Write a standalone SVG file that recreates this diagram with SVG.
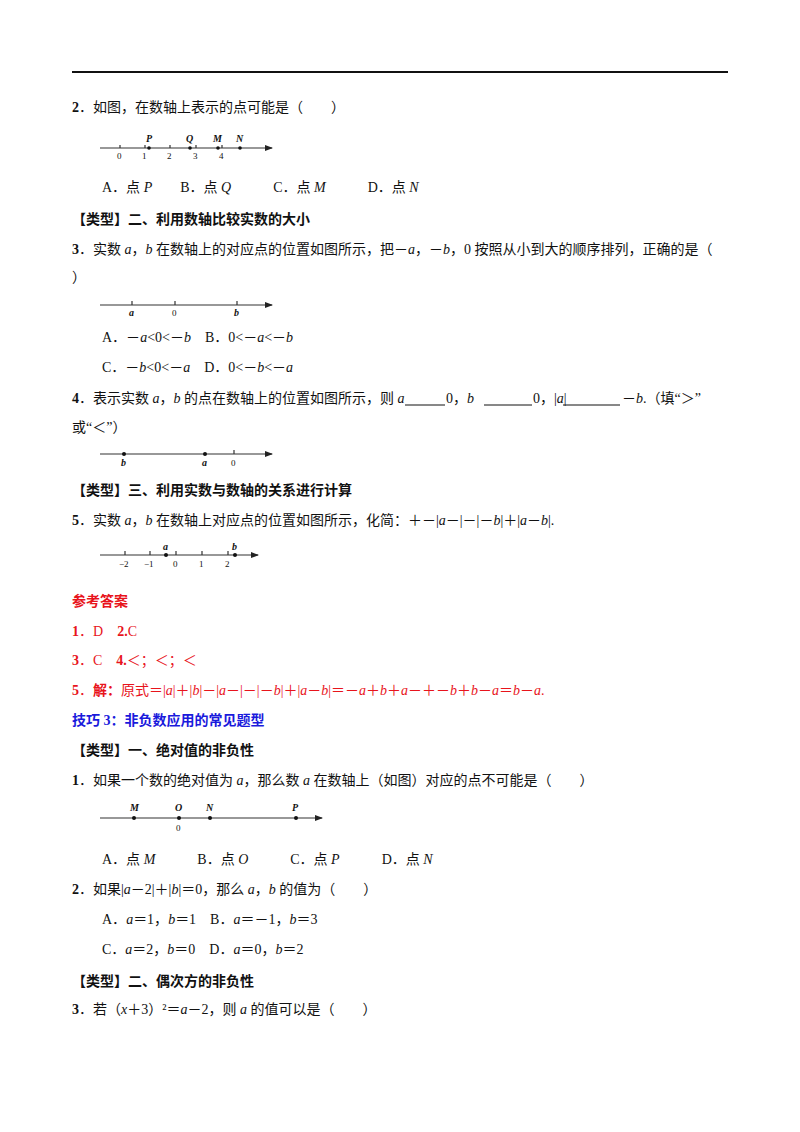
<svg xmlns="http://www.w3.org/2000/svg" width="800" height="1132" viewBox="0 0 800 1132">
<defs>
<marker id="ar" markerWidth="8" markerHeight="6" refX="7" refY="3" orient="auto" markerUnits="userSpaceOnUse"><path d="M0,0L8,3L0,6z" fill="#222"/></marker>
<style>
text{font-family:"Liberation Serif","Noto Sans CJK SC",serif;font-size:14px;fill:#111}
.b{font-weight:bold}
.r{fill:#e8141c}
.bl{fill:#1a1adc;font-weight:bold}
.s{font-size:9px;font-family:"Liberation Serif",serif}
.si{font-size:10px;font-style:italic;font-weight:bold;font-family:"Liberation Serif",serif}
.ax{stroke:#333;stroke-width:1.2;fill:none}
.i{font-style:italic}
</style>
</defs>
<rect width="800" height="1132" fill="#fff"/>
<line x1="72" y1="72" x2="728" y2="72" stroke="#111" stroke-width="2"/>
<g id="text">
<text x="72" y="112"><tspan class="b">2</tspan>．如图，在数轴上表示的点可能是（　　）</text>
<text x="102" y="192">A．点 <tspan class="i">P</tspan>　　B．点 <tspan class="i">Q</tspan>　　　C．点 <tspan class="i">M</tspan>　　　D．点 <tspan class="i">N</tspan></text>
<text x="72" y="224" class="b">【类型】二、利用数轴比较实数的大小</text>
<text x="72" y="254"><tspan class="b">3</tspan>．实数 <tspan class="i">a</tspan>，<tspan class="i">b</tspan> 在数轴上的对应点的位置如图所示，把－<tspan class="i">a</tspan>，－<tspan class="i">b</tspan>，0 按照从小到大的顺序排列，正确的是（</text>
<text x="72" y="282">）</text>
<text x="102" y="342">A．－<tspan class="i">a</tspan>&lt;0&lt;－<tspan class="i">b</tspan>　B．0&lt;－<tspan class="i">a</tspan>&lt;－<tspan class="i">b</tspan></text>
<text x="102" y="372">C．－<tspan class="i">b</tspan>&lt;0&lt;－<tspan class="i">a</tspan>　D．0&lt;－<tspan class="i">b</tspan>&lt;－<tspan class="i">a</tspan></text>
<text x="72" y="403"><tspan class="b">4</tspan>．表示实数 <tspan class="i">a</tspan>，<tspan class="i">b</tspan> 的点在数轴上的位置如图所示，则 <tspan class="i">a</tspan></text>
<text x="446" y="403">0，<tspan class="i">b</tspan></text>
<text x="533" y="403">0，|<tspan class="i">a</tspan>|</text>
<text x="622" y="403">－<tspan class="i">b</tspan>.（填“＞”</text>
<line x1="405" y1="405" x2="445" y2="405" stroke="#111"/>
<line x1="484" y1="405" x2="532" y2="405" stroke="#111"/>
<line x1="563" y1="405" x2="620" y2="405" stroke="#111"/>
<text x="72" y="432">或“＜”）</text>
<text x="72" y="495" class="b">【类型】三、利用实数与数轴的关系进行计算</text>
<text x="72" y="525"><tspan class="b">5</tspan>．实数 <tspan class="i">a</tspan>，<tspan class="i">b</tspan> 在数轴上对应点的位置如图所示，化简：＋－|<tspan class="i">a</tspan>－|－|－<tspan class="i">b</tspan>|＋|<tspan class="i">a</tspan>－<tspan class="i">b</tspan>|.</text>
<text x="72" y="606" class="b r">参考答案</text>
<text x="72" y="636" class="r"><tspan class="b">1</tspan>．D　<tspan class="b">2.</tspan>C</text>
<text x="72" y="665" class="r"><tspan class="b">3</tspan>．C　<tspan class="b">4.</tspan>＜；＜；＜</text>
<text x="72" y="695" class="r"><tspan class="b">5</tspan>．<tspan class="b">解：</tspan>原式＝|<tspan class="i">a</tspan>|＋|<tspan class="i">b</tspan>|－|<tspan class="i">a</tspan>－|－|－<tspan class="i">b</tspan>|＋|<tspan class="i">a</tspan>－<tspan class="i">b</tspan>|＝－<tspan class="i">a</tspan>＋<tspan class="i">b</tspan>＋<tspan class="i">a</tspan>－＋－<tspan class="i">b</tspan>＋<tspan class="i">b</tspan>－<tspan class="i">a</tspan>＝<tspan class="i">b</tspan>－<tspan class="i">a</tspan>.</text>
<text x="72" y="725" class="bl">技巧 3：非负数应用的常见题型</text>
<text x="72" y="755" class="b">【类型】一、绝对值的非负性</text>
<text x="72" y="785"><tspan class="b">1</tspan>．如果一个数的绝对值为 <tspan class="i">a</tspan>，那么数 <tspan class="i">a</tspan> 在数轴上（如图）对应的点不可能是（　　）</text>
<text x="102" y="864">A．点 <tspan class="i">M</tspan>　　　B．点 <tspan class="i">O</tspan>　　　C．点 <tspan class="i">P</tspan>　　　D．点 <tspan class="i">N</tspan></text>
<text x="72" y="894"><tspan class="b">2</tspan>．如果|<tspan class="i">a</tspan>－2|＋|<tspan class="i">b</tspan>|＝0，那么 <tspan class="i">a</tspan>，<tspan class="i">b</tspan> 的值为（　　）</text>
<text x="102" y="924">A．<tspan class="i">a</tspan>＝1，<tspan class="i">b</tspan>＝1　B．<tspan class="i">a</tspan>＝－1，<tspan class="i">b</tspan>＝3</text>
<text x="102" y="954">C．<tspan class="i">a</tspan>＝2，<tspan class="i">b</tspan>＝0　D．<tspan class="i">a</tspan>＝0，<tspan class="i">b</tspan>＝2</text>
<text x="72" y="986" class="b">【类型】二、偶次方的非负性</text>
<text x="72" y="1014"><tspan class="b">3</tspan>．若（<tspan class="i">x</tspan>＋3）²＝<tspan class="i">a</tspan>－2，则 <tspan class="i">a</tspan> 的值可以是（　　）</text>
</g>
<g id="axis1">
<line class="ax" x1="100" y1="148" x2="272" y2="148" marker-end="url(#ar)"/>
<path class="ax" d="M120,145v3M145,145v3M170,145v3M196,145v3M222,145v3"/>
<g fill="#111"><circle cx="149" cy="148" r="1.8"/><circle cx="190" cy="148" r="1.8"/><circle cx="218" cy="148" r="1.8"/><circle cx="240" cy="148" r="1.8"/></g>
<text class="s" x="117" y="159">0</text><text class="s" x="142" y="159">1</text><text class="s" x="167" y="159">2</text><text class="s" x="193" y="159">3</text><text class="s" x="219" y="159">4</text>
<text class="si" x="146" y="142">P</text><text class="si" x="186" y="142">Q</text><text class="si" x="213" y="142">M</text><text class="si" x="236" y="142">N</text>
</g>
<g id="axis2">
<line class="ax" x1="100" y1="305" x2="272" y2="305" marker-end="url(#ar)"/>
<path class="ax" d="M132,301v4M175,301v4M237,301v4"/>
<text class="si" x="129" y="316">a</text><text class="s" x="172" y="316">0</text><text class="si" x="234" y="316">b</text>
</g>
<g id="axis3">
<line class="ax" x1="100" y1="454" x2="272" y2="454" marker-end="url(#ar)"/>
<path class="ax" d="M234,450v4"/>
<g fill="#111"><circle cx="124" cy="454" r="2"/><circle cx="205" cy="454" r="2"/></g>
<text class="si" x="121" y="466">b</text><text class="si" x="202" y="466">a</text><text class="s" x="231" y="466">0</text>
</g>
<g id="axis4">
<line class="ax" x1="100" y1="555" x2="258" y2="555" marker-end="url(#ar)"/>
<path class="ax" d="M125,551v4M150,551v4M176,551v4M202,551v4M228,551v4"/>
<g fill="#111"><circle cx="166" cy="555" r="2"/><circle cx="235" cy="555" r="2"/></g>
<text class="s" x="119" y="567">−2</text><text class="s" x="144" y="567">−1</text><text class="s" x="173" y="567">0</text><text class="s" x="199" y="567">1</text><text class="s" x="225" y="567">2</text>
<text class="si" x="163" y="550">a</text><text class="si" x="232" y="550">b</text>
</g>
<g id="axis5">
<line class="ax" x1="100" y1="818" x2="322" y2="818" marker-end="url(#ar)"/>
<g fill="#111"><circle cx="134" cy="818" r="2"/><circle cx="179" cy="818" r="2"/><circle cx="210" cy="818" r="2"/><circle cx="296" cy="818" r="2"/></g>
<text class="si" x="130" y="811">M</text><text class="si" x="175" y="811">O</text><text class="si" x="206" y="811">N</text><text class="si" x="292" y="811">P</text>
<text class="s" x="176" y="831">0</text>
</g>
</svg>
